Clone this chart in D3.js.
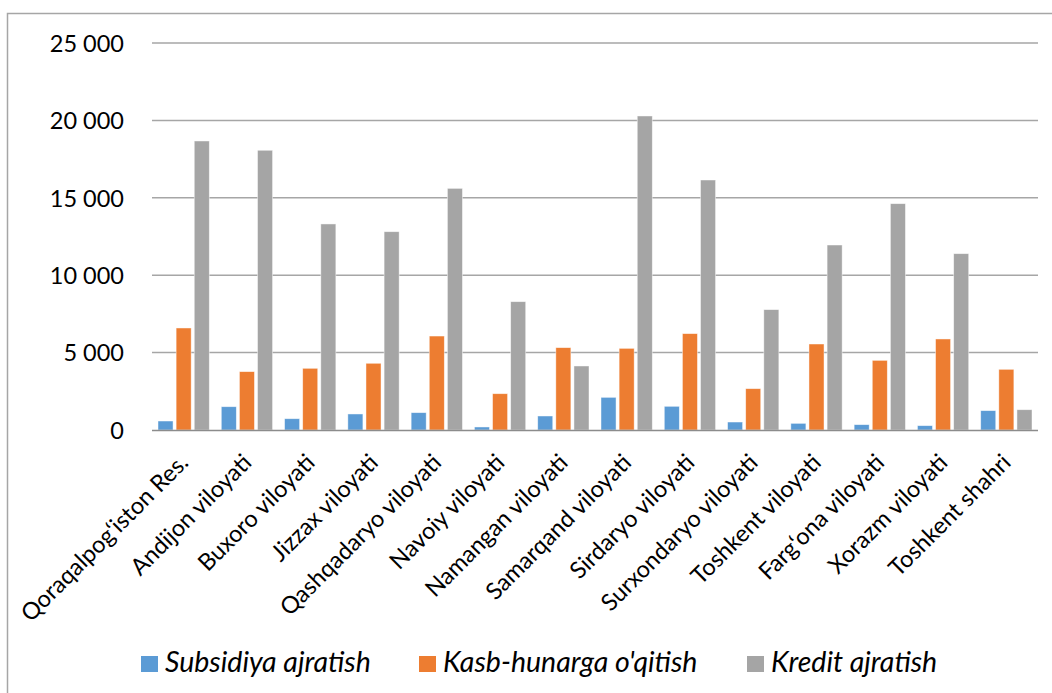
<!DOCTYPE html>
<html><head><meta charset="utf-8">
<script src="https://cdn.jsdelivr.net/npm/d3@7"></script>
<style>body{margin:0;background:#fff}svg{display:block}</style>
</head><body>
<svg id="c" width="1052" height="693"></svg>
<script>
const categories = ["Qoraqalpog‘iston Res.","Andijon viloyati","Buxoro viloyati","Jizzax viloyati","Qashqadaryo viloyati","Navoiy viloyati","Namangan viloyati","Samarqand viloyati","Sirdaryo viloyati","Surxondaryo viloyati","Toshkent viloyati","Farg‘ona viloyati","Xorazm viloyati","Toshkent shahri"];
const seriesNames = ["Subsidiya ajratish","Kasb-hunarga o'qitish","Kredit ajratish"];
const subsidiya = [580,1505,730,1035,1120,195,905,2110,1530,515,430,345,280,1250];
const kasb = [6590,3770,3985,4310,6070,2345,5320,5275,6225,2670,5555,4500,5880,3920];
const kredit = [18670,18070,13310,12810,15610,8290,4135,20285,16150,7775,11950,14620,11390,1310];
const yTicks = [0,5000,10000,15000,20000,25000];
const colors = ["#5B9BD5","#ED7D31","#A5A5A5"];
const seriesVals = [subsidiya,kasb,kredit];

const svg = d3.select("#c");
const mLeft=152,mRight=1038,mTop=43,mBottom=430;
// frame
svg.append("path").attr("d","M7.5,693 V13.5 H1052").attr("fill","none").attr("stroke","#a6a6a6").attr("stroke-width",1.5);

const x = d3.scaleBand().domain(categories).range([mLeft,mRight]).paddingInner(0).paddingOuter(0);
const y = d3.scaleLinear().domain([0,25000]).range([mBottom,mTop]);
const xs = d3.scaleBand().domain(d3.range(3)).range([6,x.bandwidth()-6]).paddingInner(0.17);

const fmt = v => v===0 ? "0" : d3.format(",")(v).replace(/,/g," ");

// grid
svg.append("g").selectAll("line").data(yTicks.filter(t=>t>0)).join("line")
  .attr("x1",mLeft).attr("x2",mRight).attr("y1",d=>y(d)).attr("y2",d=>y(d))
  .attr("stroke","#a6a6a6").attr("stroke-width",1.5);

// y labels
const yAxis = d3.axisLeft(y).tickValues(yTicks).tickFormat(fmt).tickSize(0).tickPadding(0);
const ga = svg.append("g").attr("transform",`translate(124,0)`).call(yAxis);
ga.select(".domain").remove();
ga.selectAll("text").attr("font-family","Lato, sans-serif").attr("font-size",23.5).attr("fill","#000").attr("dy","0.35em");

// bars
const g = svg.append("g");
categories.forEach((c,i)=>{
  seriesVals.forEach((vals,s)=>{
    g.append("rect").attr("x",x(c)+xs(s)).attr("width",xs.bandwidth())
      .attr("y",y(vals[i])).attr("height",mBottom-y(vals[i]))
      .attr("fill",colors[s]).attr("stroke","#fff").attr("stroke-opacity",0.6).attr("stroke-width",0.75);
  });
});

// x axis line
svg.append("line").attr("x1",mLeft).attr("x2",mRight).attr("y1",mBottom+0.5).attr("y2",mBottom+0.5)
  .attr("stroke","#8c8c8c").attr("stroke-width",1.5);

// x labels
svg.append("g").selectAll("text").data(categories).join("text")
  .attr("transform",d=>`translate(${x(d)+x.bandwidth()/2+6},${464}) rotate(-45)`)
  .attr("text-anchor","end")
  .attr("font-family","Lato, sans-serif").attr("font-size",23.5).attr("fill","#000")
  .text(d=>d);

// legend
const legX=[141,419,747];
const lg = svg.append("g");
seriesNames.forEach((n,i)=>{
  lg.append("rect").attr("x",legX[i]).attr("y",656).attr("width",17).attr("height",16).attr("fill",colors[i]);
  lg.append("text").attr("x",legX[i]+24).attr("y",672)
    .attr("font-family","Lato, sans-serif").attr("font-style","italic").attr("font-size",28.5).attr("fill","#000").text(n);
});
</script>
</body></html>
